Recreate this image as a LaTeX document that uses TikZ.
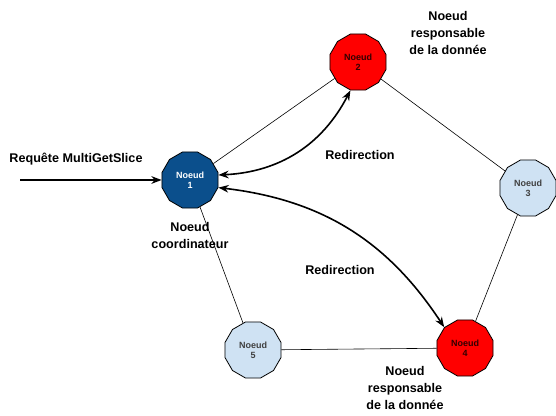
\documentclass[tikz,border=0pt]{standalone}
\usepackage{fontspec}
\setmainfont{Liberation Sans}
\usetikzlibrary{arrows.meta,positioning,shapes.geometric}
\definecolor{coordblue}{HTML}{0B4F8C}
\definecolor{respred}{HTML}{FF0000}
\definecolor{paleblue}{HTML}{CFE2F3}
\begin{document}
\begin{tikzpicture}[x=1pt,y=1pt,
  noeud/.style={draw,line width=0.8pt,regular polygon,regular polygon sides=12,minimum size=58pt,inner sep=0pt,align=center,font=\fontsize{9}{10}\selectfont\bfseries},
  coord/.style={noeud,fill=coordblue,text=white},
  resp/.style={noeud,fill=respred,text=black!80!red},
  autre/.style={noeud,fill=paleblue,text=black!75},
  lab/.style={align=center,font=\fontsize{12.6}{17}\selectfont\bfseries},
  redir/.style={<->,line width=1.6pt},
  >=Stealth]
\useasboundingbox (0,0) rectangle (556,415);
\node[coord] (n1) at (190,235) {Noeud\\1};
\node[resp] (n2) at (358,353) {Noeud\\2};
\node[autre] (n3) at (528,227) {Noeud\\3};
\node[resp] (n4) at (465,67) {Noeud\\4};
\node[autre] (n5) at (253,65) {Noeud\\5};
\draw[line width=0.6pt] (n1) -- (n2);
\draw[line width=0.6pt] (n2) -- (n3);
\draw[line width=0.6pt] (n3) -- (n4);
\draw[line width=0.6pt] (n4) -- (n5);
\draw[line width=0.6pt] (n5) -- (n1);
\draw[redir] (n1.10) to[bend right=30] (n2.255);
\draw[redir] (n1.-15) to[bend left=25] (n4.135);
\node[lab] (redir12) at (360,260) {Redirection};
\node[lab] (redir14) at (340,145) {Redirection};
\coordinate (req) at (20,235);
\node[lab] (reqlab) at (76,256) {Requête MultiGetSlice};
\draw[->,line width=1.6pt] (req) -- (n1);
\node[lab] (lcoord) at (190,180) {Noeud\\coordinateur};
\node[lab] (lresp2) at (448,382) {Noeud\\responsable\\de la donnée};
\node[lab] (lresp4) at (405,27) {Noeud\\responsable\\de la donnée};
\end{tikzpicture}
\end{document}
